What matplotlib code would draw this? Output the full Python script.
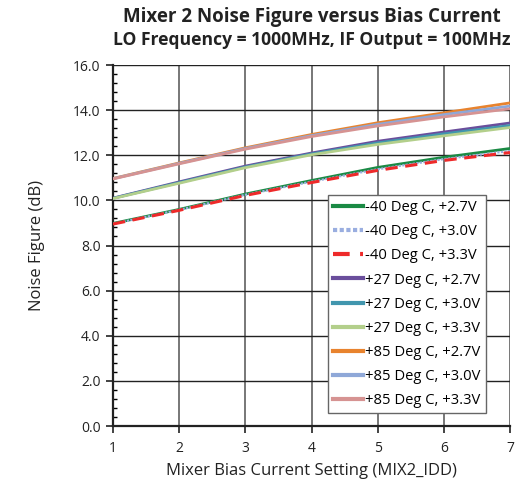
#!/usr/bin/env python3
'''Mixer 2 noise figure versus bias current, nine temperature/supply cases.'''

import matplotlib
matplotlib.use('Agg')
import matplotlib.pyplot as plt
from matplotlib.ticker import MultipleLocator, FormatStrFormatter

bias_setting = [1, 2, 3, 4, 5, 6, 7]

labels = ['-40 Deg C, +2.7V', '-40 Deg C, +3.0V', '-40 Deg C, +3.3V',
          '+27 Deg C, +2.7V', '+27 Deg C, +3.0V', '+27 Deg C, +3.3V',
          '+85 Deg C, +2.7V', '+85 Deg C, +3.0V', '+85 Deg C, +3.3V']

nf_m40_27 = [8.98, 9.60, 10.28, 10.88, 11.46, 11.91, 12.30]
nf_m40_30 = [8.96, 9.58, 10.25, 10.83, 11.38, 11.83, 12.19]
nf_m40_33 = [8.95, 9.56, 10.22, 10.79, 11.33, 11.77, 12.12]
nf_p27_27 = [10.10, 10.82, 11.52, 12.10, 12.62, 13.03, 13.43]
nf_p27_30 = [10.09, 10.79, 11.48, 12.06, 12.55, 12.95, 13.32]
nf_p27_33 = [10.08, 10.76, 11.45, 12.02, 12.48, 12.86, 13.23]
nf_p85_27 = [10.97, 11.66, 12.33, 12.92, 13.44, 13.88, 14.32]
nf_p85_30 = [10.96, 11.64, 12.30, 12.87, 13.37, 13.80, 14.18]
nf_p85_33 = [10.95, 11.62, 12.27, 12.83, 13.30, 13.70, 14.06]

series = [nf_m40_27, nf_m40_30, nf_m40_33,
          nf_p27_27, nf_p27_30, nf_p27_33,
          nf_p85_27, nf_p85_30, nf_p85_33]

colors = ['#1a8a44', '#9aaee0', '#ee2a2a',
          '#6a4e9c', '#4196ae', '#b3cf8b',
          '#e8832e', '#8fa8d8', '#d69392']

plt.rcParams['font.family'] = ['Open Sans', 'DejaVu Sans']

fig = plt.figure(figsize=(5.2, 4.84), dpi=100)
ax = fig.add_axes([0.2173, 0.1198, 0.7635, 0.7459])

for i, (vals, color, label) in enumerate(zip(series, colors, labels)):
    if i == 1:
        ax.plot(bias_setting, vals, color=color, lw=1.6, ls=(0, (1, 0.6)),
                label=label, zorder=4)
    elif i == 2:
        ax.plot(bias_setting, vals, color=color, lw=2.2, ls=(0, (4, 2.5)),
                label=label, zorder=5)
    else:
        ax.plot(bias_setting, vals, color=color, lw=2.0, label=label,
                zorder=3)

ax.set_xlim(1, 7)
ax.set_ylim(0, 16)
ax.set_xticks(bias_setting)
ax.yaxis.set_major_locator(MultipleLocator(2))
ax.yaxis.set_minor_locator(MultipleLocator(0.4))
ax.yaxis.set_major_formatter(FormatStrFormatter('%.1f'))

# horizontal grid black, vertical grid grey
ax.grid(axis='y', which='major', color='#222222', lw=1.0)
ax.grid(axis='x', which='major', color='#777777', lw=1.4)
ax.set_axisbelow(True)

for side in ('top', 'right'):
    ax.spines[side].set_visible(False)
for side in ('left', 'bottom'):
    ax.spines[side].set_linewidth(1.6)
    ax.spines[side].set_color('#222222')

ax.tick_params(axis='y', which='major', direction='out', length=5,
               width=1.2, labelsize=10, pad=4, colors='#222222')
ax.tick_params(axis='y', which='minor', direction='in', length=3, width=1)
ax.tick_params(axis='x', which='major', direction='out', length=5,
               width=1.2, labelsize=10, pad=6, colors='#222222')

ax.set_xlabel('Mixer Bias Current Setting (MIX2_IDD)', fontsize=12,
              color='#222222', labelpad=5)
ax.set_ylabel('Noise Figure (dB)', fontsize=12, color='#222222',
              labelpad=20)

ax.text(0.5, 1.132, 'Mixer 2 Noise Figure versus Bias Current',
        transform=ax.transAxes, ha='center', va='center',
        fontsize=13.5, fontweight='bold', color='#222222')
ax.text(0.5, 1.07, 'LO Frequency = 1000MHz, IF Output = 100MHz',
        transform=ax.transAxes, ha='center', va='center',
        fontsize=12.6, fontweight='bold', color='#222222')

leg = ax.legend(loc='lower left', bbox_to_anchor=(0.542, 0.035),
                fontsize=10.6, frameon=True, fancybox=False,
                handlelength=2.0, handletextpad=0.15, labelspacing=0.62,
                borderpad=0.35, borderaxespad=0)
leg.get_frame().set_edgecolor('#666666')
leg.get_frame().set_linewidth(1.0)
leg.get_frame().set_alpha(1)
for line in leg.get_lines():
    line.set_linewidth(3)

fig.savefig('out.png', dpi=100)
